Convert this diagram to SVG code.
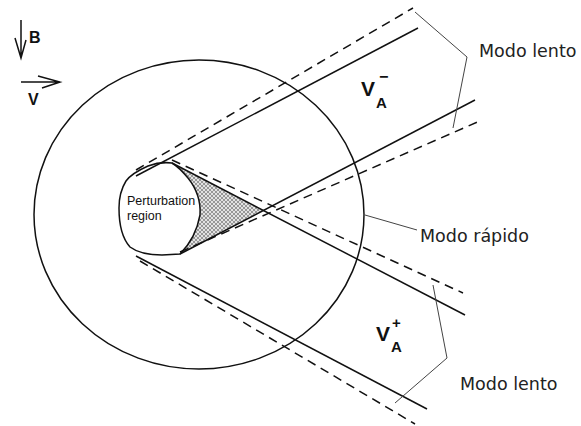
<svg xmlns="http://www.w3.org/2000/svg" width="581" height="426" viewBox="0 0 581 426">
<style>
.ln{fill:none;stroke:#111;stroke-width:1.5}
.ds{fill:none;stroke:#111;stroke-width:1.5;stroke-dasharray:9 6}
.br{fill:none;stroke:#444;stroke-width:1}
.lbl{font-family:"DejaVu Sans",sans-serif;font-size:17.5px;fill:#222}
.bold{font-family:"Liberation Sans",Arial,sans-serif;font-weight:bold;fill:#111}
.small{font-family:"Liberation Sans",Arial,sans-serif;font-size:12.5px;fill:#111}
</style>
<defs>
<pattern id="mesh" width="4" height="4" patternUnits="userSpaceOnUse">
<rect width="4" height="4" fill="#e2e2e2"/>
<path d="M0,0 L4,4 M4,0 L0,4" stroke="#777" stroke-width="0.7"/>
</pattern>
</defs>
<rect width="581" height="426" fill="#fff"/>

<g id="legend">
<path class="ln" d="M21,20 L21,58 M15,38 L21,58 L26,40"/>
<text class="bold" x="29" y="43" font-size="16">B</text>
<path class="ln" d="M21,82 L60,82 M38,76 L60,82 L42,88"/>
<text class="bold" x="28" y="105" font-size="16">V</text>
</g>

<g id="outer-circle">
<ellipse class="ln" cx="199" cy="214.5" rx="165" ry="154.5"/>
</g>

<g id="perturbation-region">
<path d="M172,163 L263,210 L180,254 C190,244 197,232 200,215 C201,200 196,188 188,178 C183,172 177,166 172,163 Z" fill="url(#mesh)" stroke="none"/>
<path class="ln" d="M172,163 C164,162 156,163 148,166 C139,170 131,174 126,181 C121,189 119,198 119,208 C119,222 121,237 130,247 C138,253 150,255 162,255 L180,254 C190,244 197,232 200,215 C201,200 196,188 188,178 C183,172 177,166 172,163 Z"/>
<text class="small" x="127" y="205">Perturbation</text>
<text class="small" x="127" y="220">region</text>
</g>

<g id="connectors">
<line class="ln" x1="136" y1="176" x2="418" y2="28"/>
<line class="ds" x1="136" y1="170" x2="413" y2="8"/>
<line class="ln" x1="172" y1="163" x2="465" y2="315"/>
<line class="ln" x1="180" y1="254" x2="475" y2="100"/>
<line class="ds" x1="172" y1="160" x2="463" y2="293"/>
<line class="ds" x1="180" y1="252" x2="482" y2="120"/>
<line class="ln" x1="136" y1="256" x2="427" y2="409"/>
<line class="ds" x1="140" y1="261" x2="415" y2="424"/>
<path class="br" d="M415,12 L467,57 L453,128"/>
<path class="br" d="M365,215 L417,230"/>
<path class="br" d="M433,285 L447,358 L395,403"/>
</g>

<g id="va-minus">
<text class="bold" x="361" y="96" font-size="21">V</text>
<text class="bold" x="376" y="108" font-size="15">A</text>
<text class="bold" x="379" y="82" font-size="16">−</text>
</g>
<g id="va-plus">
<text class="bold" x="376" y="341" font-size="21">V</text>
<text class="bold" x="391" y="352" font-size="15">A</text>
<text class="bold" x="392" y="328" font-size="15">+</text>
</g>

<g id="labels">
<text class="lbl" x="479" y="57">Modo lento</text>
<text class="lbl" x="420" y="242">Modo rápido</text>
<text class="lbl" x="460" y="390">Modo lento</text>
</g>
</svg>
